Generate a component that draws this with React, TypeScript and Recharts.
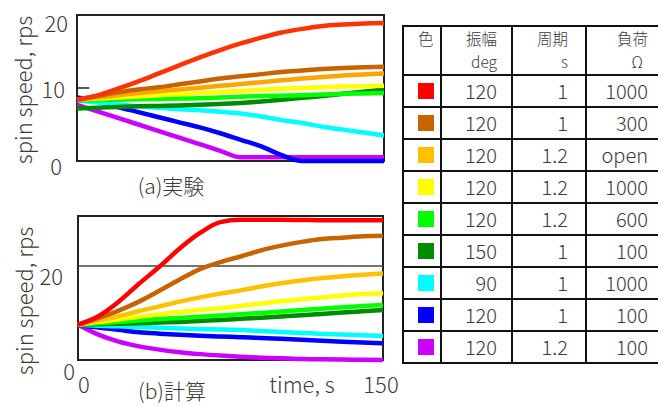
import React from 'react';
import { LineChart, Line, XAxis, YAxis, ReferenceArea, ReferenceLine } from 'recharts';

const FONT = '"Noto Sans CJK JP", "Noto Sans", sans-serif';
const TEXT = '#3a3a3a';
const WEIGHT = 300;

// time axis (s)
const time = [0, 10, 20, 30, 40, 50, 60, 70, 80, 90, 100, 110, 120, 130, 140, 150];

// table contents
const seriesColors = ['#ff0000', '#c86400', '#ffc000', '#ffff00', '#00ff00', '#008c00', '#00ffff', '#0000ff', '#cc00ff'];
const expColors = ['#ff3300', '#c86400', '#ffa500', '#ffff00', '#00ff00', '#008c00', '#00ffff', '#0000ff', '#cc00ff'];
const amplitudes = ['120', '120', '120', '120', '120', '150', '90', '120', '120'];
const periods = ['1', '1', '1.2', '1.2', '1.2', '1', '1', '1', '1.2'];
const loads = ['1000', '300', 'open', '1000', '600', '100', '1000', '100', '100'];
const headerTop = ['色', '振幅', '周期', '負荷'];
const headerBottom = ['', 'deg', 's', 'Ω'];

// (a) experiment
const expRed = [8.4, 9.0, 9.9, 10.9, 12.0, 13.1, 14.2, 15.2, 16.1, 16.9, 17.6, 18.1, 18.5, 18.7, 18.85, 18.9];
const expBrown = [8.4, 8.9, 9.4, 9.8, 10.1, 10.5, 10.9, 11.3, 11.6, 11.9, 12.2, 12.4, 12.6, 12.75, 12.85, 12.9];
const expOrange = [8.4, 8.7, 9.0, 9.3, 9.55, 9.8, 10.05, 10.3, 10.55, 10.8, 11.05, 11.3, 11.5, 11.7, 11.85, 12.0];
const expYellow = [8.4, 8.55, 8.7, 8.85, 9.0, 9.15, 9.3, 9.45, 9.6, 9.75, 9.9, 10.0, 10.1, 10.2, 10.25, 10.3];
const expLightGreen = [8.3, 8.35, 8.4, 8.45, 8.5, 8.55, 8.6, 8.7, 8.8, 8.9, 8.95, 9.0, 9.1, 9.2, 9.25, 9.3];
const expDarkGreen = [7.2, 7.3, 7.4, 7.5, 7.55, 7.6, 7.7, 7.8, 7.95, 8.15, 8.4, 8.65, 8.9, 9.2, 9.5, 9.8];
const expCyan = [8.3, 8.0, 7.75, 7.5, 7.3, 7.1, 6.95, 6.75, 6.5, 6.1, 5.6, 5.2, 4.7, 4.3, 3.9, 3.5];
const expBlue = [8.7, 8.2, 7.4, 6.7, 6.0, 5.3, 4.6, 3.8, 2.9, 2.0, 0.8, 0, 0, 0, 0, 0];
const expPurple = [7.7, 6.8, 5.9, 5.0, 4.1, 3.2, 2.3, 1.4, 0.5, 0.5, 0.5, 0.5, 0.5, 0.5, 0.5, 0.5];

// (b) calculation
const calcRed = [7.5, 9.3, 12.4, 16.2, 19.8, 23.7, 27.0, 29.3, 29.8, 29.8, 29.8, 29.75, 29.7, 29.7, 29.7, 29.7];
const calcBrown = [7.5, 8.9, 10.5, 12.4, 14.7, 17.1, 19.3, 20.8, 22.0, 23.3, 24.3, 25.1, 25.7, 26.0, 26.3, 26.4];
const calcOrange = [7.5, 8.4, 9.3, 10.4, 11.4, 12.4, 13.3, 14.1, 14.8, 15.6, 16.3, 16.9, 17.4, 17.8, 18.1, 18.4];
const calcYellow = [7.5, 8.1, 8.6, 9.2, 9.7, 10.2, 10.6, 11.0, 11.5, 12.0, 12.5, 12.9, 13.3, 13.7, 14.0, 14.2];
const calcLightGreen = [7.5, 7.8, 8.1, 8.4, 8.7, 8.95, 9.2, 9.45, 9.7, 10.0, 10.3, 10.6, 10.9, 11.2, 11.45, 11.7];
const calcDarkGreen = [7.5, 7.6, 7.7, 7.8, 7.95, 8.1, 8.3, 8.5, 8.75, 9.0, 9.25, 9.5, 9.8, 10.1, 10.35, 10.6];
const calcCyan = [7.5, 7.3, 7.15, 7.0, 6.85, 6.7, 6.6, 6.5, 6.35, 6.15, 5.95, 5.75, 5.55, 5.4, 5.25, 5.1];
const calcBlue = [7.5, 6.9, 6.4, 5.9, 5.6, 5.35, 5.15, 5.0, 4.85, 4.7, 4.5, 4.3, 4.1, 3.9, 3.7, 3.55];
const calcPurple = [7.5, 5.4, 3.9, 2.9, 2.2, 1.65, 1.25, 0.95, 0.7, 0.5, 0.35, 0.2, 0.15, 0.1, 0.05, 0];

const expTicks = [0, 10, 20];
const calcTicks = [0, 20];
const timeTicks = [0, 150];

const expSeries = [expRed, expBrown, expOrange, expYellow, expLightGreen, expDarkGreen, expCyan, expBlue, expPurple];
const calcSeries = [calcRed, calcBrown, calcOrange, calcYellow, calcLightGreen, calcDarkGreen, calcCyan, calcBlue, calcPurple];

const buildRows = (series: number[][]) =>
  time.map((t, i) => {
    const row: any = { t };
    series.forEach((s, k) => (row['s' + k] = s[i]));
    return row;
  });

const expData = buildRows(expSeries);
const calcData = buildRows(calcSeries);

const YTick = (props: any) => {
  const { x, y, payload, offsets } = props;
  const o = offsets[payload.value] || [-10, 0];
  return (
    <text x={x + o[0]} y={y + o[1]} textAnchor="end" dominantBaseline="central" fontSize={22} fontWeight={WEIGHT} fill={TEXT} fontFamily={FONT}>
      {payload.value}
    </text>
  );
};

const XTick = (props: any) => {
  const { x, y, payload } = props;
  const dx = payload.value === 0 ? 6 : -2;
  return (
    <text x={x + dx} y={y + 23} textAnchor="middle" dominantBaseline="central" fontSize={22} fontWeight={WEIGHT} fill={TEXT} fontFamily={FONT}>
      {payload.value}
    </text>
  );
};

const drawOrder = [8, 7, 6, 5, 4, 3, 2, 1, 0];

export default function App() {
  const cellBorder = '2px solid #111';
  const padRight = [0, 14, 17, 14];
  return (
    <div style={{ position: 'absolute', left: 0, top: 0, width: 658, height: 407, overflow: 'hidden', background: '#fff', fontFamily: FONT }}>
      <div style={{ position: 'absolute', left: 0, top: 0 }}>
        <LineChart width={400} height={200} data={expData} margin={{ top: 15, right: 16, bottom: 39, left: 0 }}>
          <XAxis dataKey="t" type="number" domain={[0, 150]} hide />
          <YAxis
            type="number"
            domain={[0, 20]}
            ticks={expTicks}
            width={77}
            axisLine={false}
            tickLine={false}
            tickSize={0}
            tickMargin={0}
            tick={<YTick offsets={{ 20: [-9, 7], 10: [-12, 0], 0: [-15, 4] }} />}
          />
          <ReferenceArea x1={0} x2={150} y1={0} y2={20} fill="none" stroke="#222" strokeWidth={2} ifOverflow="visible" />
          <ReferenceLine segment={[{ x: 0, y: 10 }, { x: 6, y: 10 }]} stroke="#222" strokeWidth={1.5} />
          {drawOrder.map((k) => (
            <Line key={k} dataKey={'s' + k} type="monotone" stroke={expColors[k]} strokeWidth={4.5} dot={false} isAnimationActive={false} />
          ))}
        </LineChart>
      </div>
      <div style={{ position: 'absolute', left: 0, top: 200 }}>
        <LineChart width={400} height={207} data={calcData} margin={{ top: 16, right: 17, bottom: 17, left: 0 }}>
          <XAxis
            dataKey="t"
            type="number"
            domain={[0, 150]}
            ticks={timeTicks}
            height={30}
            axisLine={false}
            tickLine={false}
            tickSize={0}
            tickMargin={0}
            tick={<XTick />}
          />
          <YAxis
            type="number"
            domain={[0, 30.6]}
            ticks={calcTicks}
            width={78}
            axisLine={false}
            tickLine={false}
            tickSize={0}
            tickMargin={0}
            tick={<YTick offsets={{ 20: [-15, 9], 0: [-3, 10] }} />}
          />
          <ReferenceLine y={20} stroke="#444" strokeWidth={1.5} />
          {drawOrder.map((k) => (
            <Line key={k} dataKey={'s' + k} type="monotone" stroke={seriesColors[k]} strokeWidth={4.5} dot={false} isAnimationActive={false} />
          ))}
          <ReferenceArea x1={0} x2={150} y1={0} y2={30.6} fill="none" stroke="#222" strokeWidth={2} ifOverflow="visible" />
        </LineChart>
      </div>
      <svg width={658} height={407} style={{ position: 'absolute', left: 0, top: 0, pointerEvents: 'none' }}>
        <g fontFamily={FONT} fill={TEXT} fontWeight={WEIGHT}>
          <text transform="translate(22,90) rotate(-90)" textAnchor="middle" dominantBaseline="central" fontSize={22}>spin speed, rps</text>
          <text transform="translate(23,301) rotate(-90)" textAnchor="middle" dominantBaseline="central" fontSize={22}>spin speed, rps</text>
          <text x={171} y={185} textAnchor="middle" dominantBaseline="central" fontSize={21}>(a)実験</text>
          <text x={172} y={390} textAnchor="middle" dominantBaseline="central" fontSize={21}>(b)計算</text>
          <text x={302} y={383} textAnchor="middle" dominantBaseline="central" fontSize={22}>time, s</text>
        </g>
      </svg>
      <table
        style={{
          position: 'absolute',
          left: 402,
          top: 25,
          borderCollapse: 'collapse',
          tableLayout: 'fixed',
          width: 260,
          color: TEXT,
          fontFamily: FONT,
          fontWeight: WEIGHT,
        }}
      >
        <colgroup>
          <col style={{ width: 38 }} />
          <col style={{ width: 71 }} />
          <col style={{ width: 74 }} />
          <col style={{ width: 77 }} />
        </colgroup>
        <tbody>
          <tr style={{ height: 49 }}>
            {headerTop.map((h, i) => (
              <td
                key={i}
                style={{
                  border: cellBorder,
                  verticalAlign: 'top',
                  textAlign: i === 0 ? 'left' : 'right',
                  padding: 0,
                  paddingLeft: i === 0 ? 14 : 0,
                  paddingRight: padRight[i],
                  fontSize: 15.5,
                  lineHeight: '23px',
                }}
              >
                <div>{h}</div>
                {headerBottom[i] ? <div style={{ paddingRight: i === 3 ? 5 : 0 }}>{headerBottom[i]}</div> : null}
              </td>
            ))}
          </tr>
          {seriesColors.map((c, r) => (
            <tr key={r} style={{ height: 32 }}>
              <td style={{ border: cellBorder, padding: 0, paddingLeft: 14, verticalAlign: 'middle' }}>
                <div style={{ width: 16, height: 16, background: c }} />
              </td>
              {[amplitudes[r], periods[r], loads[r]].map((v, i) => (
                <td
                  key={i}
                  style={{
                    border: cellBorder,
                    padding: 0,
                    paddingRight: padRight[i + 1],
                    textAlign: 'right',
                    verticalAlign: 'middle',
                    fontSize: 20,
                    lineHeight: '20px',
                  }}
                >
                  {v}
                </td>
              ))}
            </tr>
          ))}
        </tbody>
      </table>
    </div>
  );
}
